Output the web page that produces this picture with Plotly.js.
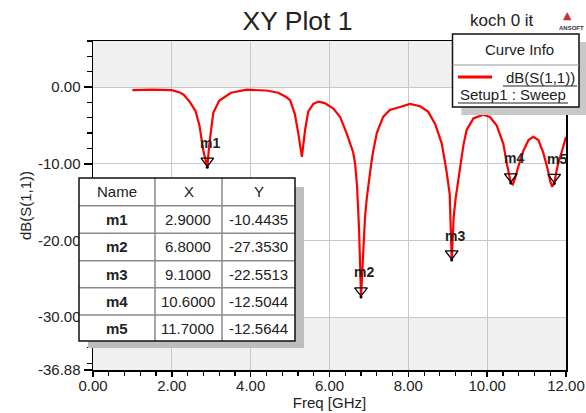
<!DOCTYPE html>
<html>
<head>
<meta charset="utf-8">
<script src="https://cdn.plot.ly/plotly-3.0.1.min.js"></script>
<style>html,body{margin:0;padding:0;background:#fff;}#chart{width:586px;height:413px;}</style>
</head>
<body>
<div id="chart"></div>
<script>
// ---- data ----
const freq = [1.0,1.5,2.0,2.2,2.3,2.45,2.6,2.7,2.8,2.9,2.95,3.0,3.05,3.2,3.5,3.9,4.4,4.7,4.9,5.0,5.12,5.21,5.3,5.38,5.46,5.59,5.72,5.88,6.1,6.27,6.44,6.6,6.65,6.7,6.75,6.8,6.85,6.9,6.95,7.0,7.05,7.1,7.2,7.36,7.53,7.79,8.04,8.3,8.5,8.68,8.85,8.97,9.05,9.1,9.15,9.2,9.3,9.4,9.48,9.65,9.9,10.07,10.24,10.41,10.5,10.6,10.65,10.7,10.8,10.92,11.05,11.17,11.3,11.42,11.55,11.6,11.65,11.7,11.75,11.8,11.9,12.0];
const dBS11 = [-0.40,-0.35,-0.40,-0.70,-1.00,-1.90,-3.10,-5.00,-8.30,-10.4435,-7.50,-5.00,-3.40,-1.80,-0.75,-0.35,-0.45,-0.75,-1.30,-1.70,-3.50,-6.10,-9.10,-5.60,-3.20,-2.20,-1.90,-2.10,-2.80,-3.90,-6.10,-8.50,-10.0,-13.0,-18.5,-27.353,-21.0,-17.0,-14.3,-12.0,-10.3,-8.6,-6.0,-3.9,-3.0,-2.6,-2.2,-2.5,-3.2,-4.8,-7.4,-11.0,-14.0,-22.5513,-17.0,-14.5,-11.0,-7.5,-5.6,-4.1,-3.6,-3.9,-5.0,-7.4,-10.0,-12.5044,-12.7,-12.0,-10.2,-8.3,-6.9,-6.5,-6.9,-8.5,-11.0,-12.3,-13.0,-12.5644,-11.2,-10.0,-8.3,-6.5];

const markerNames = ['m1','m2','m3','m4','m5'];
const markerX = [2.9, 6.8, 9.1, 10.6, 11.7];
const markerY = [-10.4435, -27.3530, -22.5513, -12.5044, -12.5644];
const markerXText = ['2.9000','6.8000','9.1000','10.6000','11.7000'];
const markerYText = ['-10.4435','-27.3530','-22.5513','-12.5044','-12.5644'];
const tableHeader = ['Name','X','Y'];

const yTickVals = [0, -10, -20, -30, -36.88];
const yTickText = ['0.00', '-10.00', '-20.00', '-30.00', '-36.88'];
const yRange = [-36.88, 6];
const xRange = [0, 12];

const seriesName = 'dB(S(1,1))';
const setupName = 'Setup1 : Sweep';

// ---- geometry helpers (pixels -> paper) ----
const W = 586, H = 413, PL = 93, PR = 566, PT = 41, PB = 370;
const px = v => (v - PL) / (PR - PL);
const py = v => (PB - v) / (PB - PT);
const FONT = 'Liberation Sans, Arial, sans-serif';
const TXT = '#222';

const pxPerDb = (PB - PT) / (yRange[1] - yRange[0]);
const triSize = 11;
const triOffset = (triSize / 2) * 2 / Math.sqrt(3) / pxPerDb; // put triangle tip on the point

const traces = [
  { x: freq, y: dBS11, type: 'scatter', mode: 'lines',
    line: { color: '#ff0000', width: 2.2 }, hoverinfo: 'skip', showlegend: false },
  { x: markerX, y: markerY.map(v => v + triOffset), type: 'scatter', mode: 'markers',
    marker: { symbol: 'triangle-down-open', size: triSize, color: '#000', line: { width: 1.3, color: '#000' } },
    hoverinfo: 'skip', showlegend: false },
  { x: markerX, y: markerY, type: 'scatter', mode: 'markers',
    marker: { symbol: 'circle', size: 3, color: '#000' }, hoverinfo: 'skip', showlegend: false }
];

const shapes = [];
const annotations = [];
function note(xp, yp, text, font) {
  annotations.push({ xref: 'paper', yref: 'paper', x: px(xp), y: py(yp), text: text, showarrow: false,
    xanchor: 'center', yanchor: 'middle', font: font });
}

// shaded bands outside 0 .. -30
shapes.push({ type: 'rect', xref: 'x', yref: 'y', x0: xRange[0], x1: xRange[1], y0: 0, y1: yRange[1], fillcolor: '#f0f0f0', line: { width: 0 }, layer: 'below' });
shapes.push({ type: 'rect', xref: 'x', yref: 'y', x0: xRange[0], x1: xRange[1], y0: yRange[0], y1: -30, fillcolor: '#f0f0f0', line: { width: 0 }, layer: 'below' });

// marker labels
markerNames.forEach((n, i) => {
  annotations.push({ x: markerX[i], y: markerY[i], xref: 'x', yref: 'y', text: '<b>' + n + '</b>',
    showarrow: false, xanchor: 'center', yanchor: 'middle', yshift: 24.5, xshift: 3,
    font: { family: FONT, size: 14, color: TXT } });
});

// ---- marker table ----
const tL = 79, tR = 295, tT = 178, tB = 341;
const colX = [tL, 155, 222, tR];
const rowY = [tT, 205.7, 233.3, 260.7, 287.7, 315, tB];
shapes.push({ type: 'rect', xref: 'paper', yref: 'paper', x0: px(tL + 9), x1: px(tR + 9), y0: py(tT + 9), y1: py(tB + 7), fillcolor: '#bdbdbd', line: { width: 0 }, layer: 'above' });
shapes.push({ type: 'rect', xref: 'paper', yref: 'paper', x0: px(tL), x1: px(tR), y0: py(tT), y1: py(tB), fillcolor: '#ffffff', line: { width: 0 }, layer: 'above' });
[colX[1], colX[2]].forEach(c => shapes.push({ type: 'line', xref: 'paper', yref: 'paper', x0: px(c), x1: px(c), y0: py(tT), y1: py(tB), line: { color: '#8a8a8a', width: 1.5 }, layer: 'above' }));
rowY.slice(1, -1).forEach(r => shapes.push({ type: 'line', xref: 'paper', yref: 'paper', x0: px(tL), x1: px(tR), y0: py(r), y1: py(r), line: { color: '#8a8a8a', width: 1.5 }, layer: 'above' }));
shapes.push({ type: 'rect', xref: 'paper', yref: 'paper', x0: px(tL), x1: px(tR), y0: py(tT), y1: py(tB), line: { color: '#111', width: 1.5 }, layer: 'above' });

const colC = [0, 1, 2].map(i => (colX[i] + colX[i + 1]) / 2);
const cellFont = { family: FONT, size: 15, color: TXT };
tableHeader.forEach((h, j) => note(colC[j], (rowY[0] + rowY[1]) / 2, h, cellFont));
markerNames.forEach((n, i) => {
  const yc = (rowY[i + 1] + rowY[i + 2]) / 2;
  note(colC[0], yc, '<b>' + n + '</b>', cellFont);
  note(colC[1] - 1, yc, markerXText[i], cellFont);
  note(colC[2], yc, markerYText[i], cellFont);
});

// ---- curve info box ----
const lL = 452.5, lR = 579, lT = 34, lB = 107;
shapes.push({ type: 'rect', xref: 'paper', yref: 'paper', x0: px(lL + 9), x1: px(lR + 9), y0: py(lT + 8), y1: py(lB + 8), fillcolor: '#c8c8c8', line: { width: 0 }, layer: 'above' });
shapes.push({ type: 'rect', xref: 'paper', yref: 'paper', x0: px(lL), x1: px(lR), y0: py(lT), y1: py(lB), fillcolor: '#ffffff', line: { color: '#111', width: 1.5 }, layer: 'above' });
shapes.push({ type: 'line', xref: 'paper', yref: 'paper', x0: px(lL), x1: px(lR), y0: py(65), y1: py(65), line: { color: '#999', width: 1 }, layer: 'above' });
shapes.push({ type: 'line', xref: 'paper', yref: 'paper', x0: px(458), x1: px(492), y0: py(77), y1: py(77), line: { color: '#ff0000', width: 3 }, layer: 'above' });
shapes.push({ type: 'line', xref: 'paper', yref: 'paper', x0: px(503), x1: px(577), y0: py(86), y1: py(86), line: { color: '#222', width: 1 }, layer: 'above' });
shapes.push({ type: 'line', xref: 'paper', yref: 'paper', x0: px(458), x1: px(568), y0: py(103), y1: py(103), line: { color: '#222', width: 1 }, layer: 'above' });
note(519, 50, 'Curve Info', { family: FONT, size: 15, color: TXT });
note(540, 77, seriesName, { family: FONT, size: 15, color: TXT });
note(513, 94, setupName, { family: FONT, size: 15, color: TXT });

// header texts
note(502, 20, 'koch 0 it', { family: FONT, size: 17, color: TXT });
note(567, 15, '▲', { family: 'DejaVu Sans', size: 11, color: '#c83232' });
note(571, 28, '<b>ANSOFT</b>', { family: FONT, size: 6, color: '#333' });

const layout = {
  width: W, height: H,
  margin: { l: PL, r: W - PR, t: PT, b: H - PB, pad: 0 },
  paper_bgcolor: '#ffffff', plot_bgcolor: '#ffffff',
  showlegend: false,
  title: { text: 'XY Plot 1', x: 297.5 / W, xref: 'container', xanchor: 'center', y: 1 - 21 / H, yanchor: 'middle', yref: 'container',
           font: { family: FONT, size: 26.5, color: TXT } },
  xaxis: {
    range: xRange, tickmode: 'linear', tick0: 0, dtick: 2, tickformat: '.2f',
    ticks: 'outside', ticklen: 5, tickwidth: 1.5, tickcolor: '#000',
    minor: { dtick: 0.4, tick0: 0, ticklen: 4, tickwidth: 1.2, tickcolor: '#000', showgrid: false },
    showgrid: true, gridcolor: '#c8c8c8', gridwidth: 1, zeroline: false,
    showline: true, linecolor: '#000', linewidth: 1.5, mirror: true,
    tickfont: { family: FONT, size: 15, color: TXT }, ticklabelstandoff: -4,
    title: { text: 'Freq [GHz]', font: { family: FONT, size: 15, color: TXT }, standoff: 0 },
    automargin: false, fixedrange: true
  },
  yaxis: {
    range: yRange, tickmode: 'array', tickvals: yTickVals, ticktext: yTickText,
    ticks: 'outside', ticklen: 8, tickwidth: 1.5, tickcolor: '#000',
    minor: { tickmode: 'array', tickvals: Array.from({ length: 22 }, (_, k) => 6 - 2 * k), ticklen: 5, tickwidth: 1.2, tickcolor: '#000', showgrid: false },
    showgrid: true, gridcolor: '#c8c8c8', gridwidth: 1, zeroline: false,
    showline: true, linecolor: '#000', linewidth: 1.5, mirror: true,
    tickfont: { family: FONT, size: 15, color: TXT },
    title: { text: 'dB(S(1,1))', font: { family: FONT, size: 15, color: TXT }, standoff: 2 },
    automargin: false, fixedrange: true
  },
  shapes: shapes,
  annotations: annotations
};

Plotly.newPlot('chart', traces, layout, { staticPlot: true, displayModeBar: false });
</script>
</body>
</html>
